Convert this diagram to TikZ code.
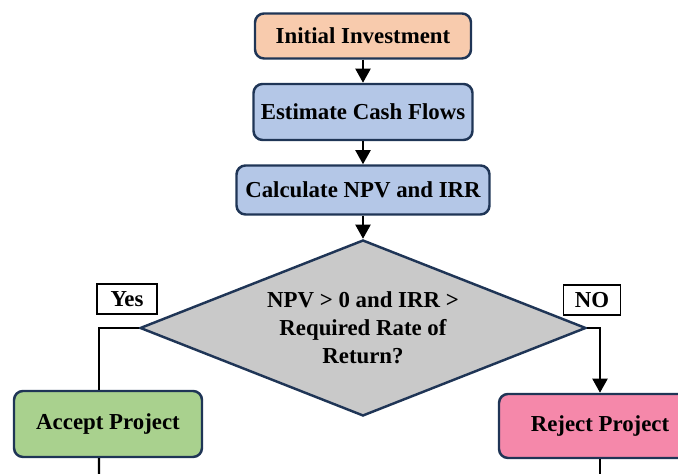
\documentclass[tikz,border=0pt]{standalone}
\usepackage{fontspec}
\setmainfont{Liberation Serif}
\usetikzlibrary{shapes.geometric,arrows.meta}
\definecolor{edgeblue}{HTML}{1F3556}
\definecolor{peach}{HTML}{F8CBAD}
\definecolor{softblue}{HTML}{B4C7E7}
\definecolor{softgray}{HTML}{C9C9C9}
\definecolor{softgreen}{HTML}{A9D18E}
\definecolor{softpink}{HTML}{F588AA}
\begin{document}
\begin{tikzpicture}[font=\bfseries\fontsize{13}{16}\selectfont,
  stepbox/.style={draw=edgeblue, line width=1.4pt, rounded corners=0.18cm, inner sep=0pt},
  tag/.style={draw, fill=white, line width=0.6pt, minimum width=1.2cm, minimum height=0.6cm, inner sep=0pt},
  flow/.style={line width=1.3pt, -{Triangle[width=8.5pt,length=8pt]}},
  link/.style={line width=1.3pt}]

\clip (0,0) rectangle (13.56,9.48);
\node[stepbox, fill=peach, minimum width=4.32cm, minimum height=0.9cm] (init) at (7.26,8.76) {Initial Investment};
\node[stepbox, fill=softblue, minimum width=4.38cm, minimum height=1.12cm] (cash) at (7.26,7.24) {Estimate Cash Flows};
\node[stepbox, fill=softblue, minimum width=5.06cm, minimum height=0.98cm] (calc) at (7.26,5.68) {Calculate NPV and IRR};
\node[diamond, draw=edgeblue, line width=1.4pt, fill=softgray, aspect=2.53, inner sep=0pt,
  minimum width=8.92cm, minimum height=3.52cm, align=center] (check) at (7.26,2.92)
  {NPV > 0 and IRR >\\Required Rate of\\Return?};
\node[stepbox, fill=softgreen, minimum width=3.76cm, minimum height=1.32cm] (accept) at (2.16,1.0) {Accept Project};
\node[stepbox, fill=softpink, minimum width=4.04cm, minimum height=1.28cm] (reject) at (12.0,0.96) {Reject Project};
\node[tag] (yes) at (2.54,3.5) {Yes};
\node[tag, minimum width=1.14cm] (no) at (11.84,3.48) {NO};

\draw[flow] (init) -- (cash);
\draw[flow] (cash) -- (calc);
\draw[flow] (calc) -- (check);
\draw[link] (check.west) -| ([xshift=-0.18cm]accept.north);
\draw[flow] (check.east) -| (reject.north);
\coordinate (acceptend) at (1.98,0);
\coordinate (rejectend) at (12.0,0);
\draw[link] ([xshift=-0.18cm]accept.south) -- (acceptend);
\draw[link] (reject.south) -- (rejectend);

\end{tikzpicture}
\end{document}
